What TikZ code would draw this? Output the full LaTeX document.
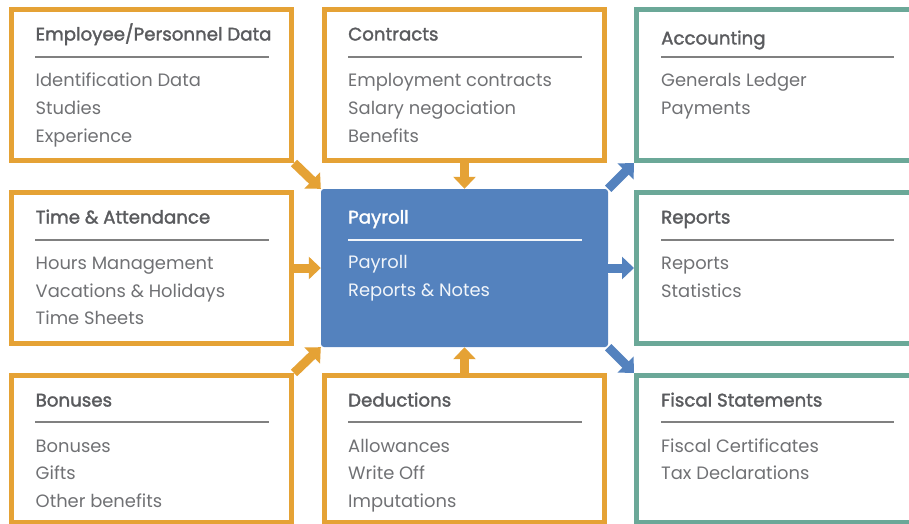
\documentclass[tikz,border=0pt]{standalone}
\usepackage{fontspec}
\setmainfont{Poppins}
\newfontfamily\pmed{Poppins}[FakeBold=1.8]
\usetikzlibrary{arrows.meta}
\definecolor{borange}{HTML}{E5A235}
\definecolor{bgreen}{HTML}{6BA898}
\definecolor{bblue}{HTML}{5482BE}
\definecolor{tgray}{HTML}{707174}
\definecolor{hgray}{HTML}{5A5B5E}
\definecolor{lgray}{HTML}{808080}
\tikzset{
  box/.style={draw, line width=5pt, minimum width=280pt, minimum height=151pt, inner sep=0pt},
  obox/.style={box, draw=borange},
  gbox/.style={box, draw=bgreen, minimum width=300pt},
  pbox/.style={fill=bblue, rounded corners=3pt, minimum width=287pt, minimum height=158pt, inner sep=0pt},
  head/.style={anchor=base west, inner sep=0pt, font=\fontsize{18.2}{20}\pmed, text=hgray},
  item/.style={anchor=base west, inner sep=0pt, font=\fontsize{17.9}{20}\selectfont, text=tgray},
  sepline/.style={draw=lgray, line width=1.8pt},
  oarrow/.style={draw=borange, line width=9pt, -{Triangle[length=12pt,width=22pt]},
     preaction={draw=white, line width=12pt, -{Triangle[length=15pt,width=27pt]}}},
  barrow/.style={oarrow, draw=bblue},
}
\begin{document}
\begin{tikzpicture}[x=1pt,y=-1pt]
\useasboundingbox (0,0) rectangle (909,524);
\clip (0,0) rectangle (909,524);
% boxes
\node[obox] (emp) at (151.5,85) {};
\node[obox] (con) at (464.5,85) {};
\node[gbox] (acc) at (786.5,85) {};
\node[obox] (tim) at (151.5,268) {};
\node[pbox] (pay) at (464.5,268) {};
\node[gbox] (rep) at (786.5,268) {};
\node[obox, minimum height=147pt] (bon) at (151.5,449) {};
\node[obox, minimum height=147pt] (ded) at (464.5,449) {};
\node[gbox, minimum height=147pt] (fis) at (786.5,449) {};
% arrows
\draw[oarrow] (emp.south east) -- (pay.north west);
\draw[oarrow] (con.south) -- (pay.north);
\draw[oarrow] (tim.east) -- (pay.west);
\draw[oarrow] (bon.north east) -- (pay.south west);
\draw[oarrow] (ded.north) -- (pay.south);
\draw[barrow] (pay.north east) -- (acc.south west);
\draw[barrow] (pay.east) -- (rep.west);
\draw[barrow] (pay.south east) -- (fis.north west);
% Employee
\node[head] (emph) at (35.5,40.5) {Employee/Personnel Data};
\draw[sepline] (35,57) -- (269,57);
\node[item] (emp1) at (35.5,86.5) {Identification Data};
\node[item] (emp2) at (35.5,114.5) {Studies};
\node[item] (emp3) at (35.5,142.5) {Experience};
% Contracts
\node[head] (conh) at (348,40.5) {Contracts};
\draw[sepline] (348,57) -- (582,57);
\node[item] (con1) at (348,86.5) {Employment contracts};
\node[item] (con2) at (348,114.5) {Salary negociation};
\node[item] (con3) at (348,142.5) {Benefits};
% Accounting
\node[head] (acch) at (661,44.5) {Accounting};
\draw[sepline] (661,57) -- (894,57);
\node[item] (acc1) at (661,86.5) {Generals Ledger};
\node[item] (acc2) at (661,114.5) {Payments};
% Time
\node[head] (timh) at (35.5,223.5) {Time \& Attendance};
\draw[sepline] (35,240) -- (269,240);
\node[item] (tim1) at (35.5,269.5) {Hours Management};
\node[item] (tim2) at (35.5,297.5) {Vacations \& Holidays};
\node[item] (tim3) at (35.5,324.5) {Time Sheets};
% Payroll
\node[head, text=white] (payh) at (348,223.5) {Payroll};
\draw[sepline, draw=white!92!bblue] (348,240) -- (582,240);
\node[item, text=white!92!bblue] (pay1) at (348,268.5) {Payroll};
\node[item, text=white!92!bblue] (pay2) at (348,296.5) {Reports \& Notes};
% Reports
\node[head] (reph) at (661,223.5) {Reports};
\draw[sepline] (661,240) -- (894,240);
\node[item] (rep1) at (661,269.5) {Reports};
\node[item] (rep2) at (661,297.5) {Statistics};
% Bonuses
\node[head] (bonh) at (35.5,406.5) {Bonuses};
\draw[sepline] (35,422) -- (269,422);
\node[item] (bon1) at (35.5,452.5) {Bonuses};
\node[item] (bon2) at (35.5,479.5) {Gifts};
\node[item] (bon3) at (35.5,507.5) {Other benefits};
% Deductions
\node[head] (dedh) at (348,406.5) {Deductions};
\draw[sepline] (348,422) -- (582,422);
\node[item] (ded1) at (348,452.5) {Allowances};
\node[item] (ded2) at (348,479.5) {Write Off};
\node[item] (ded3) at (348,507.5) {Imputations};
% Fiscal
\node[head] (fish) at (661,406.5) {Fiscal Statements};
\draw[sepline] (661,422) -- (894,422);
\node[item] (fis1) at (661,452.5) {Fiscal Certificates};
\node[item] (fis2) at (661,479.5) {Tax Declarations};
\end{tikzpicture}
\end{document}
